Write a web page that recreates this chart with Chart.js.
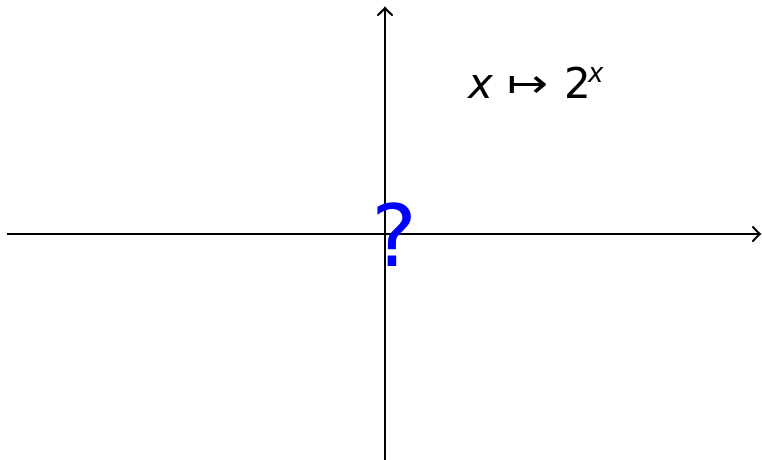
<!DOCTYPE html>
<html><head><meta charset="utf-8">
<script src="https://cdn.jsdelivr.net/npm/chart.js@4"></script>
<style>html,body{margin:0;padding:0;background:#fff;overflow:hidden}#w{width:762px;height:460px;position:relative}</style>
</head><body><div id="w"><canvas id="c"></canvas></div>
<script>
// Data: the two coordinate axes (in plot units) and the texts shown
const horizontalAxisX = [-3.78, 3.75];
const horizontalAxisY = [0, 0];
const verticalAxisX = [0, 0];
const verticalAxisY = [-2.26, 2.26];
const functionLabelParts = ['x', '\u21A6', '2', 'x'];
const unknownMark = '?';

const toPts = (xs, ys) => xs.map((x, i) => ({x: x, y: ys[i]}));

const arrowPlugin = {
  id: 'arrows',
  afterDatasetsDraw(chart) {
    const ctx = chart.ctx;
    chart.data.datasets.forEach((ds, i) => {
      const meta = chart.getDatasetMeta(i);
      const n = meta.data.length;
      const tip = meta.data[n - 1], prev = meta.data[n - 2];
      const ang = Math.atan2(tip.y - prev.y, tip.x - prev.x);
      ctx.save();
      ctx.translate(tip.x, tip.y);
      ctx.rotate(ang);
      ctx.strokeStyle = '#000';
      ctx.lineWidth = 2.1;
      ctx.lineCap = 'round';
      ctx.beginPath();
      ctx.moveTo(-7, -7);
      ctx.quadraticCurveTo(-2, -1.5, 0, 0);
      ctx.quadraticCurveTo(-2, 1.5, -7, 7);
      ctx.stroke();
      ctx.restore();
    });
  },
  afterDraw(chart) {
    const ctx = chart.ctx, xs = chart.scales.x, ys = chart.scales.y;
    ctx.save();
    ctx.fillStyle = '#000';
    ctx.textBaseline = 'alphabetic';
    ctx.textAlign = 'left';
    const base = ys.getPixelForValue(1.36);
    ctx.font = 'italic 42px "DejaVu Sans"';
    ctx.fillText(functionLabelParts[0], xs.getPixelForValue(0.83), base);
    // maps-to arrow, light weight, stretched to the reference width
    ctx.save();
    ctx.font = '200 40px "DejaVu Sans"';
    const w = ctx.measureText(functionLabelParts[1]).width;
    const x0 = xs.getPixelForValue(1.22);
    ctx.translate(x0, base - 1);
    ctx.scale(41 / w * 1.02, 1);
    ctx.fillText(functionLabelParts[1], 0, 0);
    ctx.restore();
    ctx.font = '42px "DejaVu Sans"';
    ctx.fillText(functionLabelParts[2], xs.getPixelForValue(1.79), base);
    ctx.font = 'italic 26px "DejaVu Sans"';
    ctx.fillText(functionLabelParts[3], xs.getPixelForValue(2.03), ys.getPixelForValue(1.52));
    ctx.fillStyle = '#0000ff';
    ctx.font = '86px "DejaVu Sans"';
    ctx.textAlign = 'center';
    ctx.fillText(unknownMark, xs.getPixelForValue(0.09), ys.getPixelForValue(-0.32));
    ctx.restore();
  }
};

new Chart(document.getElementById('c'), {
  type: 'scatter',
  data: {
    datasets: [
      {data: toPts(horizontalAxisX, horizontalAxisY), showLine: true, borderColor: '#000', borderWidth: 2, pointRadius: 0, fill: false},
      {data: toPts(verticalAxisX, verticalAxisY), showLine: true, borderColor: '#000', borderWidth: 2, pointRadius: 0, fill: false}
    ]
  },
  options: {
    responsive: true,
    maintainAspectRatio: false,
    animation: false,
    layout: {padding: 0},
    plugins: {legend: {display: false}, tooltip: {enabled: false}},
    scales: {
      x: {type: 'linear', display: false, min: -3.85, max: 3.77},
      y: {type: 'linear', display: false, min: -2.26, max: 2.34}
    }
  },
  plugins: [arrowPlugin]
});
</script>
</body></html>
